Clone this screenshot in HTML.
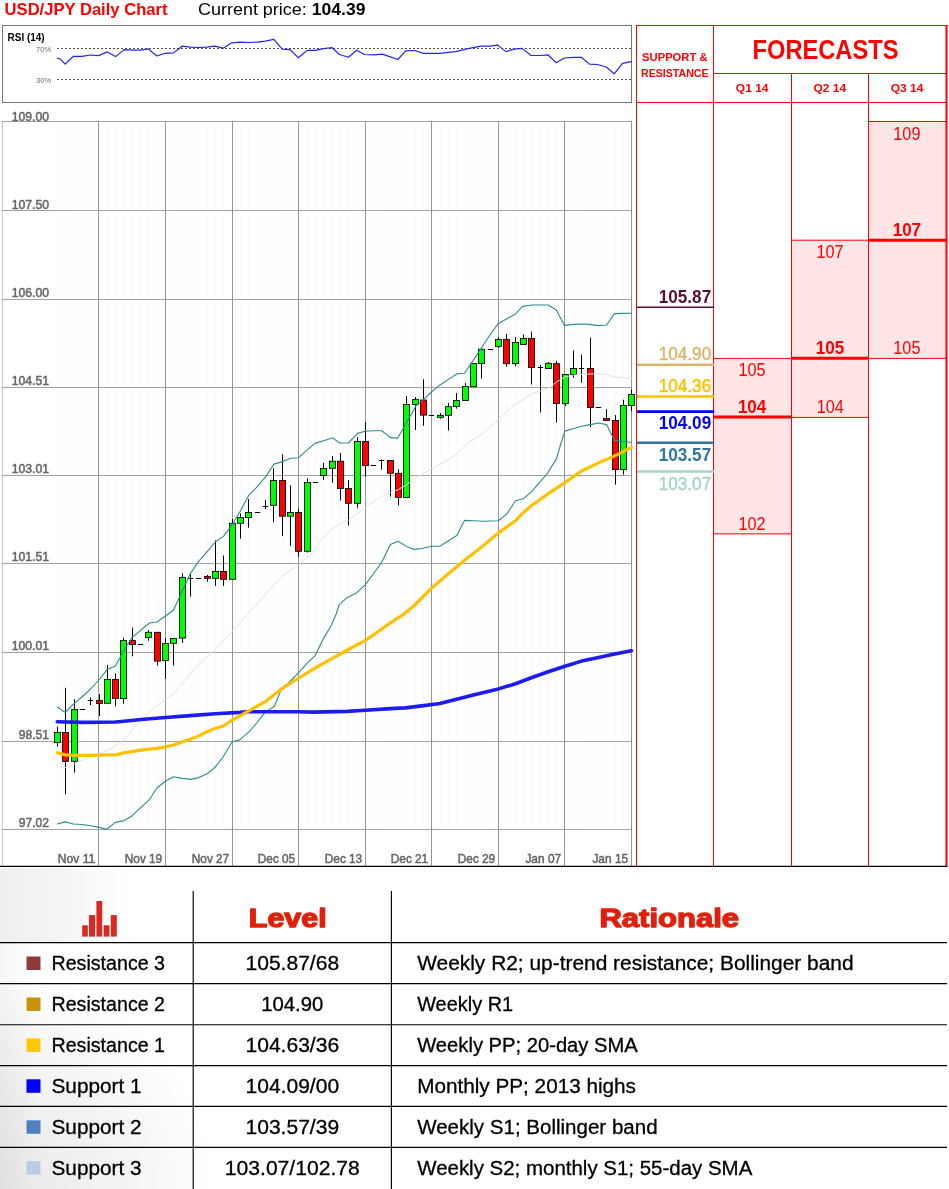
<!DOCTYPE html><html><head><meta charset="utf-8"><title>USD/JPY Daily Chart</title>
<style>html,body{margin:0;padding:0;background:#fff}svg{display:block}text{font-family:"Liberation Sans",sans-serif}</style></head><body>
<svg width="949" height="1189" viewBox="0 0 949 1189" style="will-change:transform">
<defs><radialGradient id="bg" cx="0" cy="1189" r="215" gradientUnits="userSpaceOnUse"><stop offset="0" stop-color="#e9e9e9"/><stop offset="0.55" stop-color="#f3f3f3"/><stop offset="1" stop-color="#ffffff"/></radialGradient>
<linearGradient id="bg2" x1="0" y1="0" x2="1" y2="0"><stop offset="0" stop-color="#efefef"/><stop offset="0.45" stop-color="#f4f4f4"/><stop offset="1" stop-color="#ffffff"/></linearGradient>
<linearGradient id="bg3" x1="0" y1="0" x2="1" y2="0"><stop offset="0" stop-color="#f5f5f5"/><stop offset="1" stop-color="#ffffff"/></linearGradient>
<linearGradient id="ic" x1="0" y1="0" x2="0" y2="1"><stop offset="0" stop-color="#e0241c"/><stop offset="0.7" stop-color="#dc2a20"/><stop offset="1" stop-color="#c43430"/></linearGradient></defs>
<rect width="949" height="1189" fill="#fff"/>
<rect x="0" y="868" width="130" height="75" fill="url(#bg2)"/>
<rect x="0" y="943" width="35" height="246" fill="url(#bg3)"/>
<rect x="0" y="970" width="220" height="219" fill="url(#bg)" style="mix-blend-mode:multiply"/>
<text x="4.6" y="15.3" font-size="16.9" font-weight="bold" fill="#ff0000" textLength="162.9" lengthAdjust="spacingAndGlyphs">USD/JPY Daily Chart</text>
<text x="198" y="15.3" font-size="16.9" fill="#000" textLength="108.8" lengthAdjust="spacingAndGlyphs">Current price:</text>
<text x="311.8" y="15.3" font-size="16.9" font-weight="bold" fill="#000" textLength="53.6" lengthAdjust="spacingAndGlyphs">104.39</text>
<rect x="2.5" y="25.5" width="629" height="77" fill="#fff" stroke="#777" stroke-width="1"/>
<line x1="57" y1="48.5" x2="631" y2="48.5" stroke="#505050" stroke-width="1" stroke-dasharray="2,2"/>
<line x1="57" y1="79.5" x2="631" y2="79.5" stroke="#505050" stroke-width="1" stroke-dasharray="2,2"/>
<text x="7.6" y="40.65" font-size="11.2" font-weight="bold" fill="#000" textLength="37" lengthAdjust="spacingAndGlyphs">RSI (14)</text>
<text x="35.9" y="51.75" font-size="7.8" fill="#707070" textLength="15.3" lengthAdjust="spacingAndGlyphs">70%</text>
<text x="35.9" y="82.7" font-size="7.8" fill="#707070" textLength="15.3" lengthAdjust="spacingAndGlyphs">30%</text>
<polyline fill="none" stroke="#2424f0" stroke-width="1.2" stroke-linejoin="round" stroke-linecap="round"  points="57.3,58.0 60.7,59.3 65.1,64.1 73.5,56.3 81.9,56.3 90.4,55.0 98.8,55.6 107.2,51.9 115.6,56.6 124.1,49.6 132.5,50.2 140.9,50.2 148.3,48.9 156.8,56.0 165.2,53.3 173.6,52.9 182.1,46.2 190.5,47.2 198.9,47.5 206.7,47.2 214.8,46.2 223.2,48.2 231.6,42.8 240.1,42.1 248.5,42.5 256.9,42.1 265.3,41.1 273.8,39.4 282.2,49.2 290.0,49.6 298.4,57.7 307.2,50.4 315.4,50.4 323.3,48.7 332.2,47.7 339.4,54.5 348.4,57.3 356.6,50.2 364.5,54.5 373.5,54.8 382.4,54.1 389.6,56.6 397.8,59.5 405.7,50.9 414.7,50.5 423.6,53.4 430.8,53.4 439.7,53.4 448.0,52.3 455.9,51.6 464.8,49.4 473.1,47.7 480.9,46.2 489.9,46.2 497.8,45.1 506.0,51.6 513.9,49.1 522.1,48.4 531.1,55.5 540.1,55.5 547.9,54.8 556.2,62.7 564.4,58.0 573.0,57.3 581.3,57.3 589.5,64.1 597.4,64.5 606.3,67.0 614.2,73.8 622.5,63.4 631.4,61.6"/>
<line x1="57.5" y1="122" x2="57.5" y2="829.5" stroke="#f9f9f9" stroke-width="1"/>
<line x1="65.5" y1="122" x2="65.5" y2="829.5" stroke="#f9f9f9" stroke-width="1"/>
<line x1="74.5" y1="122" x2="74.5" y2="829.5" stroke="#f9f9f9" stroke-width="1"/>
<line x1="82.5" y1="122" x2="82.5" y2="829.5" stroke="#f9f9f9" stroke-width="1"/>
<line x1="90.5" y1="122" x2="90.5" y2="829.5" stroke="#f9f9f9" stroke-width="1"/>
<line x1="99.5" y1="122" x2="99.5" y2="829.5" stroke="#f9f9f9" stroke-width="1"/>
<line x1="107.5" y1="122" x2="107.5" y2="829.5" stroke="#f9f9f9" stroke-width="1"/>
<line x1="115.5" y1="122" x2="115.5" y2="829.5" stroke="#f9f9f9" stroke-width="1"/>
<line x1="123.5" y1="122" x2="123.5" y2="829.5" stroke="#f9f9f9" stroke-width="1"/>
<line x1="132.5" y1="122" x2="132.5" y2="829.5" stroke="#f9f9f9" stroke-width="1"/>
<line x1="140.5" y1="122" x2="140.5" y2="829.5" stroke="#f9f9f9" stroke-width="1"/>
<line x1="148.5" y1="122" x2="148.5" y2="829.5" stroke="#f9f9f9" stroke-width="1"/>
<line x1="157.5" y1="122" x2="157.5" y2="829.5" stroke="#f9f9f9" stroke-width="1"/>
<line x1="165.5" y1="122" x2="165.5" y2="829.5" stroke="#f9f9f9" stroke-width="1"/>
<line x1="173.5" y1="122" x2="173.5" y2="829.5" stroke="#f9f9f9" stroke-width="1"/>
<line x1="182.5" y1="122" x2="182.5" y2="829.5" stroke="#f9f9f9" stroke-width="1"/>
<line x1="190.5" y1="122" x2="190.5" y2="829.5" stroke="#f9f9f9" stroke-width="1"/>
<line x1="198.5" y1="122" x2="198.5" y2="829.5" stroke="#f9f9f9" stroke-width="1"/>
<line x1="207.5" y1="122" x2="207.5" y2="829.5" stroke="#f9f9f9" stroke-width="1"/>
<line x1="215.5" y1="122" x2="215.5" y2="829.5" stroke="#f9f9f9" stroke-width="1"/>
<line x1="223.5" y1="122" x2="223.5" y2="829.5" stroke="#f9f9f9" stroke-width="1"/>
<line x1="232.5" y1="122" x2="232.5" y2="829.5" stroke="#f9f9f9" stroke-width="1"/>
<line x1="240.5" y1="122" x2="240.5" y2="829.5" stroke="#f9f9f9" stroke-width="1"/>
<line x1="248.5" y1="122" x2="248.5" y2="829.5" stroke="#f9f9f9" stroke-width="1"/>
<line x1="257.5" y1="122" x2="257.5" y2="829.5" stroke="#f9f9f9" stroke-width="1"/>
<line x1="265.5" y1="122" x2="265.5" y2="829.5" stroke="#f9f9f9" stroke-width="1"/>
<line x1="273.5" y1="122" x2="273.5" y2="829.5" stroke="#f9f9f9" stroke-width="1"/>
<line x1="282.5" y1="122" x2="282.5" y2="829.5" stroke="#f9f9f9" stroke-width="1"/>
<line x1="290.5" y1="122" x2="290.5" y2="829.5" stroke="#f9f9f9" stroke-width="1"/>
<line x1="298.5" y1="122" x2="298.5" y2="829.5" stroke="#f9f9f9" stroke-width="1"/>
<line x1="307.5" y1="122" x2="307.5" y2="829.5" stroke="#f9f9f9" stroke-width="1"/>
<line x1="315.5" y1="122" x2="315.5" y2="829.5" stroke="#f9f9f9" stroke-width="1"/>
<line x1="323.5" y1="122" x2="323.5" y2="829.5" stroke="#f9f9f9" stroke-width="1"/>
<line x1="332.5" y1="122" x2="332.5" y2="829.5" stroke="#f9f9f9" stroke-width="1"/>
<line x1="340.5" y1="122" x2="340.5" y2="829.5" stroke="#f9f9f9" stroke-width="1"/>
<line x1="348.5" y1="122" x2="348.5" y2="829.5" stroke="#f9f9f9" stroke-width="1"/>
<line x1="357.5" y1="122" x2="357.5" y2="829.5" stroke="#f9f9f9" stroke-width="1"/>
<line x1="365.5" y1="122" x2="365.5" y2="829.5" stroke="#f9f9f9" stroke-width="1"/>
<line x1="373.5" y1="122" x2="373.5" y2="829.5" stroke="#f9f9f9" stroke-width="1"/>
<line x1="381.5" y1="122" x2="381.5" y2="829.5" stroke="#f9f9f9" stroke-width="1"/>
<line x1="390.5" y1="122" x2="390.5" y2="829.5" stroke="#f9f9f9" stroke-width="1"/>
<line x1="398.5" y1="122" x2="398.5" y2="829.5" stroke="#f9f9f9" stroke-width="1"/>
<line x1="406.5" y1="122" x2="406.5" y2="829.5" stroke="#f9f9f9" stroke-width="1"/>
<line x1="415.5" y1="122" x2="415.5" y2="829.5" stroke="#f9f9f9" stroke-width="1"/>
<line x1="423.5" y1="122" x2="423.5" y2="829.5" stroke="#f9f9f9" stroke-width="1"/>
<line x1="431.5" y1="122" x2="431.5" y2="829.5" stroke="#f9f9f9" stroke-width="1"/>
<line x1="440.5" y1="122" x2="440.5" y2="829.5" stroke="#f9f9f9" stroke-width="1"/>
<line x1="448.5" y1="122" x2="448.5" y2="829.5" stroke="#f9f9f9" stroke-width="1"/>
<line x1="456.5" y1="122" x2="456.5" y2="829.5" stroke="#f9f9f9" stroke-width="1"/>
<line x1="465.5" y1="122" x2="465.5" y2="829.5" stroke="#f9f9f9" stroke-width="1"/>
<line x1="473.5" y1="122" x2="473.5" y2="829.5" stroke="#f9f9f9" stroke-width="1"/>
<line x1="481.5" y1="122" x2="481.5" y2="829.5" stroke="#f9f9f9" stroke-width="1"/>
<line x1="490.5" y1="122" x2="490.5" y2="829.5" stroke="#f9f9f9" stroke-width="1"/>
<line x1="498.5" y1="122" x2="498.5" y2="829.5" stroke="#f9f9f9" stroke-width="1"/>
<line x1="506.5" y1="122" x2="506.5" y2="829.5" stroke="#f9f9f9" stroke-width="1"/>
<line x1="515.5" y1="122" x2="515.5" y2="829.5" stroke="#f9f9f9" stroke-width="1"/>
<line x1="523.5" y1="122" x2="523.5" y2="829.5" stroke="#f9f9f9" stroke-width="1"/>
<line x1="531.5" y1="122" x2="531.5" y2="829.5" stroke="#f9f9f9" stroke-width="1"/>
<line x1="540.5" y1="122" x2="540.5" y2="829.5" stroke="#f9f9f9" stroke-width="1"/>
<line x1="548.5" y1="122" x2="548.5" y2="829.5" stroke="#f9f9f9" stroke-width="1"/>
<line x1="556.5" y1="122" x2="556.5" y2="829.5" stroke="#f9f9f9" stroke-width="1"/>
<line x1="565.5" y1="122" x2="565.5" y2="829.5" stroke="#f9f9f9" stroke-width="1"/>
<line x1="573.5" y1="122" x2="573.5" y2="829.5" stroke="#f9f9f9" stroke-width="1"/>
<line x1="581.5" y1="122" x2="581.5" y2="829.5" stroke="#f9f9f9" stroke-width="1"/>
<line x1="590.5" y1="122" x2="590.5" y2="829.5" stroke="#f9f9f9" stroke-width="1"/>
<line x1="598.5" y1="122" x2="598.5" y2="829.5" stroke="#f9f9f9" stroke-width="1"/>
<line x1="606.5" y1="122" x2="606.5" y2="829.5" stroke="#f9f9f9" stroke-width="1"/>
<line x1="615.5" y1="122" x2="615.5" y2="829.5" stroke="#f9f9f9" stroke-width="1"/>
<line x1="623.5" y1="122" x2="623.5" y2="829.5" stroke="#f9f9f9" stroke-width="1"/>
<line x1="631.5" y1="122" x2="631.5" y2="829.5" stroke="#f9f9f9" stroke-width="1"/>
<line x1="2.5" y1="121" x2="2.5" y2="866" stroke="#c6c6c6" stroke-width="1"/>
<line x1="2" y1="121.5" x2="632" y2="121.5" stroke="#a2a2a2" stroke-width="1"/>
<line x1="2" y1="210.5" x2="632" y2="210.5" stroke="#a2a2a2" stroke-width="1"/>
<line x1="2" y1="299.5" x2="632" y2="299.5" stroke="#a2a2a2" stroke-width="1"/>
<line x1="2" y1="387.5" x2="632" y2="387.5" stroke="#a2a2a2" stroke-width="1"/>
<line x1="2" y1="475.5" x2="632" y2="475.5" stroke="#a2a2a2" stroke-width="1"/>
<line x1="2" y1="563.5" x2="632" y2="563.5" stroke="#a2a2a2" stroke-width="1"/>
<line x1="2" y1="652.5" x2="632" y2="652.5" stroke="#a2a2a2" stroke-width="1"/>
<line x1="2" y1="741.5" x2="632" y2="741.5" stroke="#a2a2a2" stroke-width="1"/>
<line x1="2" y1="829.5" x2="632" y2="829.5" stroke="#a2a2a2" stroke-width="1"/>
<line x1="98.5" y1="121" x2="98.5" y2="866" stroke="#959595" stroke-width="1"/>
<line x1="165.5" y1="121" x2="165.5" y2="866" stroke="#959595" stroke-width="1"/>
<line x1="232.5" y1="121" x2="232.5" y2="866" stroke="#959595" stroke-width="1"/>
<line x1="298.5" y1="121" x2="298.5" y2="866" stroke="#959595" stroke-width="1"/>
<line x1="365.5" y1="121" x2="365.5" y2="866" stroke="#959595" stroke-width="1"/>
<line x1="431.5" y1="121" x2="431.5" y2="866" stroke="#959595" stroke-width="1"/>
<line x1="498.5" y1="121" x2="498.5" y2="866" stroke="#959595" stroke-width="1"/>
<line x1="564.5" y1="121" x2="564.5" y2="866" stroke="#959595" stroke-width="1"/>
<line x1="631.5" y1="121" x2="631.5" y2="866" stroke="#959595" stroke-width="1"/>
<text x="49.05" y="120.60" font-size="12.2" fill="#666" stroke="#666" stroke-width="0.5" text-anchor="end" textLength="37.3" lengthAdjust="spacingAndGlyphs">109.00</text>
<text x="49.05" y="208.75" font-size="12.2" fill="#666" stroke="#666" stroke-width="0.5" text-anchor="end" textLength="37.3" lengthAdjust="spacingAndGlyphs">107.50</text>
<text x="49.05" y="296.85" font-size="12.2" fill="#666" stroke="#666" stroke-width="0.5" text-anchor="end" textLength="37.3" lengthAdjust="spacingAndGlyphs">106.00</text>
<text x="49.05" y="384.85" font-size="12.2" fill="#666" stroke="#666" stroke-width="0.5" text-anchor="end" textLength="37.3" lengthAdjust="spacingAndGlyphs">104.51</text>
<text x="49.05" y="472.85" font-size="12.2" fill="#666" stroke="#666" stroke-width="0.5" text-anchor="end" textLength="37.3" lengthAdjust="spacingAndGlyphs">103.01</text>
<text x="49.05" y="560.85" font-size="12.2" fill="#666" stroke="#666" stroke-width="0.5" text-anchor="end" textLength="37.3" lengthAdjust="spacingAndGlyphs">101.51</text>
<text x="49.05" y="649.85" font-size="12.2" fill="#666" stroke="#666" stroke-width="0.5" text-anchor="end" textLength="37.3" lengthAdjust="spacingAndGlyphs">100.01</text>
<text x="49.05" y="738.85" font-size="12.2" fill="#666" stroke="#666" stroke-width="0.5" text-anchor="end" textLength="30.3" lengthAdjust="spacingAndGlyphs">98.51</text>
<text x="49.05" y="826.85" font-size="12.2" fill="#666" stroke="#666" stroke-width="0.5" text-anchor="end" textLength="30.3" lengthAdjust="spacingAndGlyphs">97.02</text>
<text x="95.2" y="862.8" font-size="12.2" fill="#666" stroke="#666" stroke-width="0.5" text-anchor="end" textLength="37.4" lengthAdjust="spacingAndGlyphs">Nov 11</text>
<text x="162.2" y="862.8" font-size="12.2" fill="#666" stroke="#666" stroke-width="0.5" text-anchor="end" textLength="37.4" lengthAdjust="spacingAndGlyphs">Nov 19</text>
<text x="229.2" y="862.8" font-size="12.2" fill="#666" stroke="#666" stroke-width="0.5" text-anchor="end" textLength="37.4" lengthAdjust="spacingAndGlyphs">Nov 27</text>
<text x="295.2" y="862.8" font-size="12.2" fill="#666" stroke="#666" stroke-width="0.5" text-anchor="end" textLength="37.4" lengthAdjust="spacingAndGlyphs">Dec 05</text>
<text x="362.2" y="862.8" font-size="12.2" fill="#666" stroke="#666" stroke-width="0.5" text-anchor="end" textLength="37.4" lengthAdjust="spacingAndGlyphs">Dec 13</text>
<text x="428.2" y="862.8" font-size="12.2" fill="#666" stroke="#666" stroke-width="0.5" text-anchor="end" textLength="37.4" lengthAdjust="spacingAndGlyphs">Dec 21</text>
<text x="495.2" y="862.8" font-size="12.2" fill="#666" stroke="#666" stroke-width="0.5" text-anchor="end" textLength="37.4" lengthAdjust="spacingAndGlyphs">Dec 29</text>
<text x="561.2" y="862.8" font-size="12.2" fill="#666" stroke="#666" stroke-width="0.5" text-anchor="end" textLength="35.8" lengthAdjust="spacingAndGlyphs">Jan 07</text>
<text x="628.2" y="862.8" font-size="12.2" fill="#666" stroke="#666" stroke-width="0.5" text-anchor="end" textLength="35.8" lengthAdjust="spacingAndGlyphs">Jan 15</text>
<line x1="57.5" y1="726.6" x2="57.5" y2="746.5" stroke="#000" stroke-width="1"/>
<rect x="54.55" y="732.5" width="5.9" height="10.1" fill="#00ff00" stroke="#000" stroke-width="0.85"/>
<line x1="65.5" y1="687.8" x2="65.5" y2="794.2" stroke="#000" stroke-width="1"/>
<rect x="62.55" y="732.5" width="5.9" height="28.8" fill="#ff0000" stroke="#000" stroke-width="0.85"/>
<line x1="74.5" y1="699.3" x2="74.5" y2="772.6" stroke="#000" stroke-width="1"/>
<rect x="71.55" y="709.4" width="5.9" height="51.9" fill="#00ff00" stroke="#000" stroke-width="0.85"/>
<line x1="79.8" y1="709.5" x2="85.2" y2="709.5" stroke="#000" stroke-width="1"/>
<line x1="87.8" y1="700.5" x2="93.2" y2="700.5" stroke="#000" stroke-width="1"/>
<line x1="90.5" y1="697.5" x2="90.5" y2="705.0" stroke="#000" stroke-width="1"/>
<line x1="99.5" y1="694.2" x2="99.5" y2="716.1" stroke="#000" stroke-width="1"/>
<rect x="96.55" y="700.6" width="5.9" height="2.9" fill="#ff0000" stroke="#000" stroke-width="0.85"/>
<line x1="107.5" y1="665.2" x2="107.5" y2="703.3" stroke="#000" stroke-width="1"/>
<rect x="104.55" y="679.4" width="5.9" height="23.9" fill="#00ff00" stroke="#000" stroke-width="0.85"/>
<line x1="115.5" y1="673.6" x2="115.5" y2="706.3" stroke="#000" stroke-width="1"/>
<rect x="112.55" y="679.4" width="5.9" height="19.0" fill="#ff0000" stroke="#000" stroke-width="0.85"/>
<line x1="123.5" y1="637.7" x2="123.5" y2="703.8" stroke="#000" stroke-width="1"/>
<rect x="120.55" y="640.6" width="5.9" height="58.0" fill="#00ff00" stroke="#000" stroke-width="0.85"/>
<line x1="132.5" y1="627.6" x2="132.5" y2="656.3" stroke="#000" stroke-width="1"/>
<rect x="129.55" y="640.6" width="5.9" height="3.9" fill="#ff0000" stroke="#000" stroke-width="0.85"/>
<line x1="137.8" y1="644.5" x2="143.2" y2="644.5" stroke="#000" stroke-width="1"/>
<line x1="148.5" y1="630.1" x2="148.5" y2="640.7" stroke="#000" stroke-width="1"/>
<rect x="145.55" y="632.3" width="5.9" height="5.1" fill="#00ff00" stroke="#000" stroke-width="0.85"/>
<line x1="157.5" y1="632.3" x2="157.5" y2="665.5" stroke="#000" stroke-width="1"/>
<rect x="154.55" y="632.3" width="5.9" height="28.8" fill="#ff0000" stroke="#000" stroke-width="0.85"/>
<line x1="165.5" y1="638.0" x2="165.5" y2="678.7" stroke="#000" stroke-width="1"/>
<rect x="162.55" y="643.6" width="5.9" height="16.9" fill="#00ff00" stroke="#000" stroke-width="0.85"/>
<line x1="173.5" y1="638.5" x2="173.5" y2="665.5" stroke="#000" stroke-width="1"/>
<rect x="170.55" y="638.5" width="5.9" height="4.8" fill="#00ff00" stroke="#000" stroke-width="0.85"/>
<line x1="182.5" y1="573.2" x2="182.5" y2="642.8" stroke="#000" stroke-width="1"/>
<rect x="179.55" y="577.4" width="5.9" height="60.7" fill="#00ff00" stroke="#000" stroke-width="0.85"/>
<line x1="187.8" y1="578.5" x2="193.2" y2="578.5" stroke="#000" stroke-width="1"/>
<line x1="190.5" y1="574.0" x2="190.5" y2="596.5" stroke="#000" stroke-width="1"/>
<line x1="195.8" y1="578.5" x2="201.2" y2="578.5" stroke="#000" stroke-width="1"/>
<line x1="207.5" y1="574.9" x2="207.5" y2="581.6" stroke="#000" stroke-width="1"/>
<rect x="204.55" y="576.6" width="5.9" height="1.7" fill="#ff0000" stroke="#000" stroke-width="0.85"/>
<line x1="215.5" y1="540.3" x2="215.5" y2="585.9" stroke="#000" stroke-width="1"/>
<rect x="212.55" y="571.5" width="5.9" height="6.8" fill="#00ff00" stroke="#000" stroke-width="0.85"/>
<line x1="223.5" y1="555.5" x2="223.5" y2="585.9" stroke="#000" stroke-width="1"/>
<rect x="220.55" y="571.5" width="5.9" height="7.8" fill="#ff0000" stroke="#000" stroke-width="0.85"/>
<line x1="232.5" y1="518.9" x2="232.5" y2="579.3" stroke="#000" stroke-width="1"/>
<rect x="229.55" y="523.3" width="5.9" height="56.0" fill="#00ff00" stroke="#000" stroke-width="0.85"/>
<line x1="240.5" y1="513.4" x2="240.5" y2="538.7" stroke="#000" stroke-width="1"/>
<rect x="237.55" y="517.6" width="5.9" height="5.7" fill="#00ff00" stroke="#000" stroke-width="0.85"/>
<line x1="248.5" y1="499.0" x2="248.5" y2="527.7" stroke="#000" stroke-width="1"/>
<rect x="245.55" y="512.5" width="5.9" height="5.1" fill="#00ff00" stroke="#000" stroke-width="0.85"/>
<line x1="254.8" y1="512.5" x2="260.2" y2="512.5" stroke="#000" stroke-width="1"/>
<line x1="262.8" y1="506.5" x2="268.2" y2="506.5" stroke="#000" stroke-width="1"/>
<line x1="265.5" y1="499.9" x2="265.5" y2="509.1" stroke="#000" stroke-width="1"/>
<line x1="273.5" y1="468.3" x2="273.5" y2="522.1" stroke="#000" stroke-width="1"/>
<rect x="270.55" y="480.5" width="5.9" height="24.8" fill="#00ff00" stroke="#000" stroke-width="0.85"/>
<line x1="282.5" y1="454.3" x2="282.5" y2="536.1" stroke="#000" stroke-width="1"/>
<rect x="279.55" y="480.5" width="5.9" height="35.7" fill="#ff0000" stroke="#000" stroke-width="0.85"/>
<line x1="290.5" y1="485.5" x2="290.5" y2="545.9" stroke="#000" stroke-width="1"/>
<rect x="287.55" y="512.5" width="5.9" height="3.7" fill="#00ff00" stroke="#000" stroke-width="0.85"/>
<line x1="298.5" y1="508.8" x2="298.5" y2="556.7" stroke="#000" stroke-width="1"/>
<rect x="295.55" y="512.5" width="5.9" height="38.8" fill="#ff0000" stroke="#000" stroke-width="0.85"/>
<line x1="307.5" y1="478.4" x2="307.5" y2="552.6" stroke="#000" stroke-width="1"/>
<rect x="304.55" y="482.5" width="5.9" height="68.8" fill="#00ff00" stroke="#000" stroke-width="0.85"/>
<line x1="312.8" y1="482.5" x2="318.2" y2="482.5" stroke="#000" stroke-width="1"/>
<line x1="323.5" y1="462.9" x2="323.5" y2="480.1" stroke="#000" stroke-width="1"/>
<rect x="320.55" y="468.5" width="5.9" height="7.0" fill="#00ff00" stroke="#000" stroke-width="0.85"/>
<line x1="332.5" y1="456.1" x2="332.5" y2="482.8" stroke="#000" stroke-width="1"/>
<rect x="329.55" y="461.2" width="5.9" height="7.1" fill="#00ff00" stroke="#000" stroke-width="0.85"/>
<line x1="340.5" y1="453.1" x2="340.5" y2="500.5" stroke="#000" stroke-width="1"/>
<rect x="337.55" y="461.2" width="5.9" height="27.3" fill="#ff0000" stroke="#000" stroke-width="0.85"/>
<line x1="348.5" y1="480.1" x2="348.5" y2="525.6" stroke="#000" stroke-width="1"/>
<rect x="345.55" y="488.5" width="5.9" height="14.8" fill="#ff0000" stroke="#000" stroke-width="0.85"/>
<line x1="357.5" y1="437.2" x2="357.5" y2="507.7" stroke="#000" stroke-width="1"/>
<rect x="354.55" y="441.5" width="5.9" height="61.8" fill="#00ff00" stroke="#000" stroke-width="0.85"/>
<line x1="365.5" y1="422.1" x2="365.5" y2="476.4" stroke="#000" stroke-width="1"/>
<rect x="362.55" y="441.5" width="5.9" height="24.1" fill="#ff0000" stroke="#000" stroke-width="0.85"/>
<line x1="370.8" y1="465.5" x2="376.2" y2="465.5" stroke="#000" stroke-width="1"/>
<line x1="378.8" y1="460.5" x2="384.2" y2="460.5" stroke="#000" stroke-width="1"/>
<line x1="381.5" y1="459.5" x2="381.5" y2="469.6" stroke="#000" stroke-width="1"/>
<line x1="390.5" y1="460.5" x2="390.5" y2="496.6" stroke="#000" stroke-width="1"/>
<rect x="387.55" y="460.5" width="5.9" height="12.8" fill="#ff0000" stroke="#000" stroke-width="0.85"/>
<line x1="398.5" y1="469.3" x2="398.5" y2="505.4" stroke="#000" stroke-width="1"/>
<rect x="395.55" y="473.3" width="5.9" height="24.1" fill="#ff0000" stroke="#000" stroke-width="0.85"/>
<line x1="406.5" y1="395.9" x2="406.5" y2="497.4" stroke="#000" stroke-width="1"/>
<rect x="403.55" y="404.4" width="5.9" height="93.0" fill="#00ff00" stroke="#000" stroke-width="0.85"/>
<line x1="415.5" y1="397.1" x2="415.5" y2="430.0" stroke="#000" stroke-width="1"/>
<rect x="412.55" y="399.6" width="5.9" height="4.8" fill="#00ff00" stroke="#000" stroke-width="0.85"/>
<line x1="423.5" y1="379.4" x2="423.5" y2="425.8" stroke="#000" stroke-width="1"/>
<rect x="420.55" y="400.0" width="5.9" height="15.1" fill="#ff0000" stroke="#000" stroke-width="0.85"/>
<line x1="428.8" y1="415.5" x2="434.2" y2="415.5" stroke="#000" stroke-width="1"/>
<line x1="440.5" y1="413.1" x2="440.5" y2="418.7" stroke="#000" stroke-width="1"/>
<rect x="437.55" y="415.3" width="5.9" height="2.0" fill="#00ff00" stroke="#000" stroke-width="0.85"/>
<line x1="448.5" y1="403.0" x2="448.5" y2="430.5" stroke="#000" stroke-width="1"/>
<rect x="445.55" y="406.7" width="5.9" height="8.6" fill="#00ff00" stroke="#000" stroke-width="0.85"/>
<line x1="456.5" y1="393.0" x2="456.5" y2="408.6" stroke="#000" stroke-width="1"/>
<rect x="453.55" y="400.5" width="5.9" height="6.0" fill="#00ff00" stroke="#000" stroke-width="0.85"/>
<line x1="465.5" y1="383.1" x2="465.5" y2="400.5" stroke="#000" stroke-width="1"/>
<rect x="462.55" y="386.5" width="5.9" height="14.0" fill="#00ff00" stroke="#000" stroke-width="0.85"/>
<line x1="473.5" y1="363.5" x2="473.5" y2="386.7" stroke="#000" stroke-width="1"/>
<rect x="470.55" y="363.5" width="5.9" height="23.2" fill="#00ff00" stroke="#000" stroke-width="0.85"/>
<line x1="481.5" y1="349.2" x2="481.5" y2="378.5" stroke="#000" stroke-width="1"/>
<rect x="478.55" y="349.2" width="5.9" height="14.3" fill="#00ff00" stroke="#000" stroke-width="0.85"/>
<line x1="487.8" y1="349.5" x2="493.2" y2="349.5" stroke="#000" stroke-width="1"/>
<line x1="498.5" y1="337.0" x2="498.5" y2="348.0" stroke="#000" stroke-width="1"/>
<rect x="495.55" y="339.4" width="5.9" height="7.0" fill="#00ff00" stroke="#000" stroke-width="0.85"/>
<line x1="506.5" y1="334.0" x2="506.5" y2="366.7" stroke="#000" stroke-width="1"/>
<rect x="503.55" y="339.4" width="5.9" height="24.3" fill="#ff0000" stroke="#000" stroke-width="0.85"/>
<line x1="515.5" y1="337.0" x2="515.5" y2="366.5" stroke="#000" stroke-width="1"/>
<rect x="512.55" y="342.4" width="5.9" height="21.3" fill="#00ff00" stroke="#000" stroke-width="0.85"/>
<line x1="523.5" y1="334.4" x2="523.5" y2="344.4" stroke="#000" stroke-width="1"/>
<rect x="520.55" y="338.4" width="5.9" height="6.0" fill="#00ff00" stroke="#000" stroke-width="0.85"/>
<line x1="531.5" y1="331.6" x2="531.5" y2="384.5" stroke="#000" stroke-width="1"/>
<rect x="528.55" y="338.4" width="5.9" height="29.1" fill="#ff0000" stroke="#000" stroke-width="0.85"/>
<line x1="537.8" y1="367.5" x2="543.2" y2="367.5" stroke="#000" stroke-width="1"/>
<line x1="540.5" y1="365.0" x2="540.5" y2="412.5" stroke="#000" stroke-width="1"/>
<line x1="548.5" y1="362.0" x2="548.5" y2="368.5" stroke="#000" stroke-width="1"/>
<rect x="545.55" y="363.3" width="5.9" height="5.2" fill="#00ff00" stroke="#000" stroke-width="0.85"/>
<line x1="556.5" y1="361.1" x2="556.5" y2="422.5" stroke="#000" stroke-width="1"/>
<rect x="553.55" y="363.7" width="5.9" height="39.8" fill="#ff0000" stroke="#000" stroke-width="0.85"/>
<line x1="565.5" y1="374.5" x2="565.5" y2="406.1" stroke="#000" stroke-width="1"/>
<rect x="562.55" y="374.5" width="5.9" height="29.0" fill="#00ff00" stroke="#000" stroke-width="0.85"/>
<line x1="573.5" y1="350.5" x2="573.5" y2="377.7" stroke="#000" stroke-width="1"/>
<rect x="570.55" y="368.5" width="5.9" height="6.0" fill="#00ff00" stroke="#000" stroke-width="0.85"/>
<line x1="578.8" y1="368.5" x2="584.2" y2="368.5" stroke="#000" stroke-width="1"/>
<line x1="581.5" y1="354.5" x2="581.5" y2="382.7" stroke="#000" stroke-width="1"/>
<line x1="590.5" y1="337.6" x2="590.5" y2="427.1" stroke="#000" stroke-width="1"/>
<rect x="587.55" y="368.5" width="5.9" height="39.0" fill="#ff0000" stroke="#000" stroke-width="0.85"/>
<line x1="595.8" y1="407.5" x2="601.2" y2="407.5" stroke="#000" stroke-width="1"/>
<line x1="606.5" y1="409.1" x2="606.5" y2="420.5" stroke="#000" stroke-width="1"/>
<rect x="603.55" y="418.5" width="5.9" height="2.0" fill="#ff0000" stroke="#000" stroke-width="0.85"/>
<line x1="615.5" y1="415.1" x2="615.5" y2="484.6" stroke="#000" stroke-width="1"/>
<rect x="612.55" y="420.5" width="5.9" height="49.1" fill="#ff0000" stroke="#000" stroke-width="0.85"/>
<line x1="623.5" y1="399.7" x2="623.5" y2="474.6" stroke="#000" stroke-width="1"/>
<rect x="620.55" y="405.5" width="5.9" height="64.1" fill="#00ff00" stroke="#000" stroke-width="0.85"/>
<line x1="631.5" y1="389.5" x2="631.5" y2="411.1" stroke="#000" stroke-width="1"/>
<rect x="628.55" y="394.5" width="5.9" height="11.0" fill="#00ff00" stroke="#000" stroke-width="0.85"/>
<polyline fill="none" stroke="#e2e2e2" stroke-width="1" stroke-linejoin="round" stroke-linecap="round"  points="57.3,765.9 65.1,767.7 73.5,764.6 90.7,756.7 107.4,750.2 115.4,746.3 124.0,739.8 131.6,730.7 140.7,721.6 149.3,712.4 156.9,705.9 165.5,699.4 173.5,694.2 182.1,683.8 190.5,673.4 198.8,664.2 207.2,656.4 215.2,649.5 223.3,641.0 232.3,631.0 247.8,613.6 265.2,595.0 281.4,576.5 298.8,564.9 315.0,549.8 323.5,537.1 331.3,530.1 339.7,523.6 348.4,520.2 357.4,513.5 365.3,507.6 381.7,496.6 390.6,492.4 397.7,489.9 406.6,484.8 415.6,478.0 431.4,468.8 448.6,459.5 457.2,453.6 464.6,446.5 470.0,441.0 482.6,433.9 498.3,419.5 515.5,404.1 531.5,394.1 540.5,391.1 550.1,387.1 556.3,382.1 564.5,377.1 573.5,375.1 581.5,374.5 589.5,374.1 598.1,373.7 606.6,374.5 614.6,377.1 623.4,377.7 631.6,378.1"/>
<polyline fill="none" stroke="#2b8c90" stroke-width="1.1" stroke-linejoin="round" stroke-linecap="round"  points="57.3,707.0 65.2,712.5 73.5,704.2 81.8,697.0 90.7,689.0 98.5,680.5 107.5,669.2 115.4,666.0 124.0,650.0 131.6,638.2 140.6,630.3 149.5,623.0 156.9,622.0 165.5,616.0 173.5,610.0 182.1,591.5 190.6,573.1 198.7,561.4 207.4,551.3 215.2,542.0 223.6,536.1 232.4,524.3 240.5,510.8 248.6,495.6 256.8,487.2 265.4,477.1 274.0,464.1 281.6,461.9 290.4,458.2 298.5,457.7 306.9,450.1 315.0,443.4 323.5,440.8 332.4,437.9 339.7,443.0 348.4,443.0 357.4,433.4 365.3,431.2 373.2,430.8 381.7,430.8 390.6,437.6 397.7,438.1 406.6,422.4 415.6,406.4 423.5,399.6 431.4,392.0 439.5,385.3 448.6,379.4 457.1,373.8 464.5,373.2 473.4,360.1 481.4,348.0 490.0,335.0 498.2,323.6 506.5,319.0 515.5,314.0 522.5,306.4 531.5,305.0 540.5,305.0 548.1,305.0 556.3,310.0 564.5,325.4 573.5,324.4 581.5,324.0 589.5,324.4 598.1,325.6 606.6,325.0 614.6,313.6 623.4,313.4 631.6,313.2"/>
<polyline fill="none" stroke="#2b8c90" stroke-width="1.1" stroke-linejoin="round" stroke-linecap="round"  points="57.3,824.0 65.1,821.9 73.5,824.0 81.8,824.5 90.7,825.8 98.2,827.1 106.8,829.2 115.4,822.4 124.0,820.6 131.6,816.2 140.7,807.6 149.3,799.7 156.9,788.0 165.5,781.0 173.5,776.8 182.1,778.4 190.5,779.4 198.8,777.6 207.2,773.7 215.2,767.2 223.3,756.5 232.3,741.8 239.7,739.9 249.0,731.8 257.1,722.5 265.2,712.1 274.5,706.3 281.4,688.9 289.5,682.0 298.8,672.7 306.9,663.4 315.0,655.8 323.2,639.1 331.3,625.2 335.9,614.7 339.4,604.3 347.5,597.4 356.8,592.7 365.4,584.6 373.0,574.2 381.6,562.6 390.4,544.5 398.0,541.3 406.6,546.4 414.3,549.4 422.8,548.2 431.6,546.3 439.7,546.3 449.0,540.5 457.1,535.2 460.6,527.8 464.5,520.4 473.3,520.8 482.6,521.3 498.4,520.8 506.9,513.9 515.5,500.7 523.2,498.8 531.3,491.9 539.4,482.6 547.5,473.3 551.7,466.4 556.3,459.4 560.3,445.5 564.9,431.1 573.0,428.8 581.6,426.3 590.4,424.6 598.5,423.0 606.6,424.6 610.6,432.8 614.7,440.4 622.8,441.3 631.4,442.5"/>
<polyline fill="none" stroke="#1c1cf0" stroke-width="3.6" stroke-linejoin="round" stroke-linecap="round"  points="57.3,721.7 82.2,722.4 115.4,722.0 124.0,721.2 141.0,719.5 165.5,717.5 190.5,715.6 215.2,713.7 240.0,712.4 247.8,711.7 298.8,711.7 312.7,712.1 347.5,711.4 365.4,710.3 390.4,708.6 405.5,707.9 421.7,705.9 440.0,703.5 473.3,694.9 498.4,688.9 515.5,683.8 531.3,677.8 547.5,672.0 564.9,666.2 581.6,661.1 598.5,657.6 614.7,654.1 631.4,650.7"/>
<polyline fill="none" stroke="#ffc000" stroke-width="3.2" stroke-linejoin="round" stroke-linecap="round"  points="57.3,752.8 65.1,754.9 73.5,755.4 90.7,755.4 107.4,754.9 115.4,754.9 124.0,752.9 140.7,750.2 156.9,748.3 165.5,746.8 173.5,745.0 182.1,742.0 190.5,739.0 198.8,736.0 207.2,731.5 215.2,728.6 223.3,726.0 232.3,720.2 247.8,711.4 265.2,701.7 281.4,688.9 298.8,678.0 315.0,668.1 331.3,658.8 347.5,650.0 365.4,640.3 373.0,635.2 390.4,622.9 403.1,614.7 414.3,605.5 431.6,588.1 447.8,574.2 464.5,560.3 482.6,546.3 498.4,532.9 515.5,520.8 523.2,512.7 531.3,505.8 547.5,494.2 564.9,482.6 581.6,471.0 598.5,462.9 614.7,455.9 631.4,447.4"/>
<line x1="0" y1="866.4" x2="947.5" y2="866.4" stroke="#000" stroke-width="1.3"/>
<rect x="868.5" y="121.5" width="78" height="237" fill="#ffe5e5"/>
<rect x="791.5" y="240.2" width="77" height="177.1" fill="#ffe5e5"/>
<rect x="713.5" y="358.4" width="78" height="175.5" fill="#ffe5e5"/>
<line x1="868.5" y1="121.50" x2="946.0" y2="121.50" stroke="#ff0000" stroke-width="1"/>
<line x1="868.5" y1="358.40" x2="946.0" y2="358.40" stroke="#ff0000" stroke-width="1"/>
<line x1="868.5" y1="240.30" x2="946.0" y2="240.30" stroke="#ff0000" stroke-width="3"/>
<line x1="791.5" y1="240.20" x2="868.5" y2="240.20" stroke="#ff0000" stroke-width="1"/>
<line x1="791.5" y1="417.40" x2="868.5" y2="417.40" stroke="#ff0000" stroke-width="1"/>
<line x1="791.5" y1="358.20" x2="868.5" y2="358.20" stroke="#ff0000" stroke-width="3"/>
<line x1="713.5" y1="358.40" x2="791.5" y2="358.40" stroke="#ff0000" stroke-width="1"/>
<line x1="713.5" y1="533.90" x2="791.5" y2="533.90" stroke="#ff0000" stroke-width="1"/>
<line x1="713.5" y1="417.00" x2="791.5" y2="417.00" stroke="#ff0000" stroke-width="3"/>
<line x1="636.5" y1="25.0" x2="636.5" y2="866.0" stroke="#ff0000" stroke-width="1"/>
<line x1="713.5" y1="25.0" x2="713.5" y2="866.0" stroke="#ff0000" stroke-width="1"/>
<line x1="791.5" y1="73.0" x2="791.5" y2="866.0" stroke="#ff0000" stroke-width="1"/>
<line x1="868.5" y1="73.0" x2="868.5" y2="866.0" stroke="#ff0000" stroke-width="1"/>
<line x1="946.5" y1="25.0" x2="946.5" y2="866.0" stroke="#ff0000" stroke-width="2"/>
<line x1="636.0" y1="25.50" x2="947.5" y2="25.50" stroke="#ff0000" stroke-width="1"/>
<line x1="713.5" y1="73.50" x2="946.0" y2="73.50" stroke="#ff0000" stroke-width="1"/>
<line x1="636.5" y1="102.50" x2="946.0" y2="102.50" stroke="#ff0000" stroke-width="1"/>
<line x1="637.0" y1="307.20" x2="714.2" y2="307.20" stroke="#5a1036" stroke-width="1.4"/>
<text x="711.2" y="302.6" font-size="17.8" font-weight="bold" fill="#5a1036" text-anchor="end" textLength="52.5" lengthAdjust="spacingAndGlyphs">105.87</text>
<line x1="637.0" y1="364.80" x2="714.2" y2="364.80" stroke="#d9b66c" stroke-width="2.5"/>
<text x="711.2" y="359.6" font-size="17.8" stroke="#d9b66c" stroke-width="0.45" fill="#d9b66c" text-anchor="end" textLength="52.5" lengthAdjust="spacingAndGlyphs">104.90</text>
<line x1="637.0" y1="396.60" x2="714.2" y2="396.60" stroke="#ffc000" stroke-width="2.5"/>
<text x="711.2" y="391.7" font-size="17.8" stroke="#ffc000" stroke-width="0.45" fill="#ffc000" text-anchor="end" textLength="52.5" lengthAdjust="spacingAndGlyphs">104.36</text>
<line x1="637.0" y1="411.60" x2="714.2" y2="411.60" stroke="#0000ff" stroke-width="2.7"/>
<text x="711.2" y="429.3" font-size="17.8" font-weight="bold" fill="#0000ff" text-anchor="end" textLength="52.5" lengthAdjust="spacingAndGlyphs">104.09</text>
<line x1="637.0" y1="442.70" x2="714.2" y2="442.70" stroke="#31759f" stroke-width="2.6"/>
<text x="711.2" y="460.6" font-size="17.8" font-weight="bold" fill="#31759f" text-anchor="end" textLength="52.5" lengthAdjust="spacingAndGlyphs">103.57</text>
<line x1="637.0" y1="471.50" x2="714.2" y2="471.50" stroke="#a9d2ce" stroke-width="2.6"/>
<text x="711.2" y="489.8" font-size="17.8" stroke="#a9d2ce" stroke-width="0.45" fill="#a9d2ce" text-anchor="end" textLength="52.5" lengthAdjust="spacingAndGlyphs">103.07</text>
<text x="674.8" y="61" font-size="10.8" font-weight="bold" fill="#ff0000" text-anchor="middle" textLength="65.5" lengthAdjust="spacingAndGlyphs">SUPPORT &amp;</text>
<text x="674.8" y="77.2" font-size="11.6" font-weight="bold" fill="#ff0000" text-anchor="middle" textLength="67.5" lengthAdjust="spacingAndGlyphs">RESISTANCE</text>
<text x="825.5" y="59.4" font-size="27.3" font-weight="bold" fill="#ff0000" text-anchor="middle" textLength="146" lengthAdjust="spacingAndGlyphs">FORECASTS</text>
<text x="752.2" y="91.8" font-size="10.6" font-weight="bold" fill="#ff0000" text-anchor="middle" textLength="32.7" lengthAdjust="spacingAndGlyphs">Q1 14</text>
<text x="829.8" y="91.8" font-size="10.6" font-weight="bold" fill="#ff0000" text-anchor="middle" textLength="32.7" lengthAdjust="spacingAndGlyphs">Q2 14</text>
<text x="907.1" y="91.8" font-size="10.6" font-weight="bold" fill="#ff0000" text-anchor="middle" textLength="32.7" lengthAdjust="spacingAndGlyphs">Q3 14</text>
<text x="906.9" y="140.3" font-size="18.3"  fill="#ff0000" text-anchor="middle" textLength="27.1" lengthAdjust="spacingAndGlyphs">109</text>
<text x="906.9" y="236.2" font-size="18.3" font-weight="bold" fill="#ff0000" text-anchor="middle" textLength="28.4" lengthAdjust="spacingAndGlyphs">107</text>
<text x="906.9" y="353.7" font-size="18.3"  fill="#ff0000" text-anchor="middle" textLength="27.1" lengthAdjust="spacingAndGlyphs">105</text>
<text x="830.1" y="257.7" font-size="18.3"  fill="#ff0000" text-anchor="middle" textLength="27.1" lengthAdjust="spacingAndGlyphs">107</text>
<text x="830.0" y="353.7" font-size="18.3" font-weight="bold" fill="#ff0000" text-anchor="middle" textLength="28.4" lengthAdjust="spacingAndGlyphs">105</text>
<text x="830.2" y="412.6" font-size="18.3"  fill="#ff0000" text-anchor="middle" textLength="27.1" lengthAdjust="spacingAndGlyphs">104</text>
<text x="752.0" y="375.7" font-size="18.3"  fill="#ff0000" text-anchor="middle" textLength="27.1" lengthAdjust="spacingAndGlyphs">105</text>
<text x="752.1" y="412.6" font-size="18.3" font-weight="bold" fill="#ff0000" text-anchor="middle" textLength="28.4" lengthAdjust="spacingAndGlyphs">104</text>
<text x="752.1" y="529.6" font-size="18.3"  fill="#ff0000" text-anchor="middle" textLength="27.1" lengthAdjust="spacingAndGlyphs">102</text>
<line x1="0.0" y1="942.60" x2="947.0" y2="942.60" stroke="#000" stroke-width="1.15"/>
<line x1="0.0" y1="983.60" x2="947.0" y2="983.60" stroke="#000" stroke-width="1.15"/>
<line x1="0.0" y1="1024.70" x2="947.0" y2="1024.70" stroke="#000" stroke-width="1.15"/>
<line x1="0.0" y1="1065.60" x2="947.0" y2="1065.60" stroke="#000" stroke-width="1.15"/>
<line x1="0.0" y1="1106.40" x2="947.0" y2="1106.40" stroke="#000" stroke-width="1.15"/>
<line x1="0.0" y1="1147.30" x2="947.0" y2="1147.30" stroke="#000" stroke-width="1.15"/>
<line x1="193.2" y1="891.0" x2="193.2" y2="1189.0" stroke="#000" stroke-width="1.15"/>
<line x1="391.4" y1="891.0" x2="391.4" y2="1189.0" stroke="#000" stroke-width="1.15"/>
<rect x="82.2" y="925.3" width="5.6" height="11.3" fill="url(#ic)"/>
<rect x="89.0" y="915.1" width="6.1" height="21.5" fill="url(#ic)"/>
<rect x="96.4" y="901.0" width="5.8" height="35.6" fill="url(#ic)"/>
<rect x="103.7" y="925.3" width="5.8" height="11.3" fill="url(#ic)"/>
<rect x="110.8" y="915.1" width="6.0" height="21.5" fill="url(#ic)"/>
<text x="248.8" y="927.4" font-size="26.5" font-weight="bold" fill="#e1200c" stroke="#e1200c" stroke-width="1.3" stroke-linejoin="round" textLength="77.8" lengthAdjust="spacingAndGlyphs">Level</text>
<text x="599.4" y="927.4" font-size="26.5" font-weight="bold" fill="#e1200c" stroke="#e1200c" stroke-width="1.3" stroke-linejoin="round" textLength="139.7" lengthAdjust="spacingAndGlyphs">Rationale</text>
<rect x="26.5" y="956.5" width="14" height="13.5" fill="#8c3a3c"/>
<text x="51.5" y="970.2" font-size="20" fill="#000" stroke="#000" stroke-width="0.3" textLength="113.5" lengthAdjust="spacingAndGlyphs">Resistance 3</text>
<text x="292.3" y="970.2" font-size="20" fill="#000" stroke="#000" stroke-width="0.3" text-anchor="middle" textLength="93.6" lengthAdjust="spacingAndGlyphs">105.87/68</text>
<text x="417.2" y="970.2" font-size="20" fill="#000" stroke="#000" stroke-width="0.3" textLength="436.4" lengthAdjust="spacingAndGlyphs">Weekly R2; up-trend resistance; Bollinger band</text>
<rect x="26.5" y="997.5" width="14" height="13.5" fill="#c8940c"/>
<text x="51.5" y="1011.2" font-size="20" fill="#000" stroke="#000" stroke-width="0.3" textLength="113.5" lengthAdjust="spacingAndGlyphs">Resistance 2</text>
<text x="292.3" y="1011.2" font-size="20" fill="#000" stroke="#000" stroke-width="0.3" text-anchor="middle" textLength="62.0" lengthAdjust="spacingAndGlyphs">104.90</text>
<text x="417.2" y="1011.2" font-size="20" fill="#000" stroke="#000" stroke-width="0.3" textLength="95.9" lengthAdjust="spacingAndGlyphs">Weekly R1</text>
<rect x="26.5" y="1038.4" width="14" height="13.5" fill="#ffc800"/>
<text x="51.5" y="1052.1" font-size="20" fill="#000" stroke="#000" stroke-width="0.3" textLength="113.5" lengthAdjust="spacingAndGlyphs">Resistance 1</text>
<text x="292.3" y="1052.1" font-size="20" fill="#000" stroke="#000" stroke-width="0.3" text-anchor="middle" textLength="93.6" lengthAdjust="spacingAndGlyphs">104.63/36</text>
<text x="417.2" y="1052.1" font-size="20" fill="#000" stroke="#000" stroke-width="0.3" textLength="220.6" lengthAdjust="spacingAndGlyphs">Weekly PP; 20-day SMA</text>
<rect x="26.5" y="1079.3" width="14" height="13.5" fill="#0000ff"/>
<text x="51.5" y="1093.0" font-size="20" fill="#000" stroke="#000" stroke-width="0.3" textLength="90.0" lengthAdjust="spacingAndGlyphs">Support 1</text>
<text x="292.3" y="1093.0" font-size="20" fill="#000" stroke="#000" stroke-width="0.3" text-anchor="middle" textLength="93.6" lengthAdjust="spacingAndGlyphs">104.09/00</text>
<text x="417.2" y="1093.0" font-size="20" fill="#000" stroke="#000" stroke-width="0.3" textLength="218.8" lengthAdjust="spacingAndGlyphs">Monthly PP; 2013 highs</text>
<rect x="26.5" y="1120.3" width="14" height="13.5" fill="#4f81bd"/>
<text x="51.5" y="1134.0" font-size="20" fill="#000" stroke="#000" stroke-width="0.3" textLength="90.0" lengthAdjust="spacingAndGlyphs">Support 2</text>
<text x="292.3" y="1134.0" font-size="20" fill="#000" stroke="#000" stroke-width="0.3" text-anchor="middle" textLength="93.6" lengthAdjust="spacingAndGlyphs">103.57/39</text>
<text x="417.2" y="1134.0" font-size="20" fill="#000" stroke="#000" stroke-width="0.3" textLength="240.4" lengthAdjust="spacingAndGlyphs">Weekly S1; Bollinger band</text>
<rect x="26.5" y="1161.2" width="14" height="13.5" fill="#b8cce4"/>
<text x="51.5" y="1175.0" font-size="20" fill="#000" stroke="#000" stroke-width="0.3" textLength="90.0" lengthAdjust="spacingAndGlyphs">Support 3</text>
<text x="292.3" y="1175.0" font-size="20" fill="#000" stroke="#000" stroke-width="0.3" text-anchor="middle" textLength="135.0" lengthAdjust="spacingAndGlyphs">103.07/102.78</text>
<text x="417.2" y="1175.0" font-size="20" fill="#000" stroke="#000" stroke-width="0.3" textLength="335.1" lengthAdjust="spacingAndGlyphs">Weekly S2; monthly S1; 55-day SMA</text>
</svg></body></html>
